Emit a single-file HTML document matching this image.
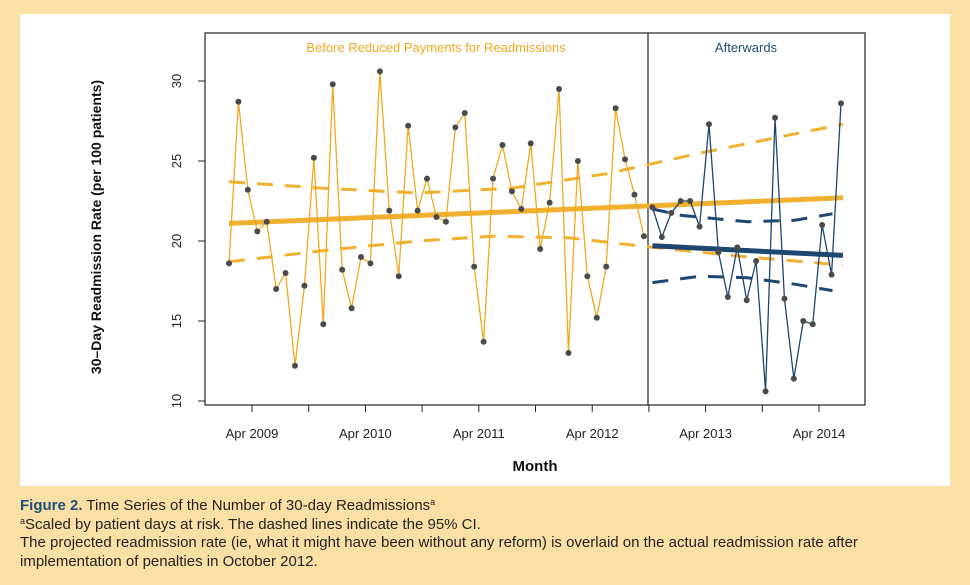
<!DOCTYPE html>
<html><head><meta charset="utf-8"><style>
body{margin:0;width:970px;height:585px;background:#fbe0a6;font-family:"Liberation Sans",sans-serif;overflow:hidden;position:relative}
#panel{position:absolute;left:20px;top:14px;width:930px;height:472px;background:#fff}
#cap{position:absolute;left:20px;top:497px;width:930px;font-size:15px;line-height:18.5px;color:#222}
#cap b{color:#1d4e79;font-weight:bold}
sup{font-size:9px;vertical-align:5px;line-height:0}
</style></head><body>
<div id="panel"></div>
<svg id="chart" width="970" height="585" style="position:absolute;left:0;top:0"></svg>
<div id="cap"><b>Figure 2.</b> Time Series of the Number of 30-day Readmissions<sup>a</sup><br><sup>a</sup>Scaled by patient days at risk. The dashed lines indicate the 95% CI.<br>The projected readmission rate (ie, what it might have been without any reform) is overlaid on the actual readmission rate after implementation of penalties in October 2012.</div>
<script>
const beforeVals=[18.6,28.7,23.2,20.6,21.2,17.0,18.0,12.2,17.2,25.2,14.8,29.8,18.2,15.8,19.0,18.6,30.6,21.9,17.8,27.2,21.9,23.9,21.5,21.2,27.1,28.0,18.4,13.7,23.9,26.0,23.1,22.0,26.1,19.5,22.4,29.5,13.0,25.0,17.8,15.2,18.4,28.3,25.1,22.9,20.3];
const afterVals=[22.1,20.25,21.75,22.5,22.5,20.9,27.3,19.3,16.5,19.6,16.3,18.75,10.6,27.7,16.4,11.4,15.0,14.8,21.0,17.9,28.6];
const yTicks=[10,15,20,25,30];
const xTickLabels=["Apr 2009","Apr 2010","Apr 2011","Apr 2012","Apr 2013","Apr 2014"];
const orangeFit=[[0,21.1],[65.1,22.7]];
const orangeUpper=[[0,23.7],[10,23.3],[20,23.0],[30,23.3],[40,24.2],[50,25.5],[65.1,27.3]];
const orangeLower=[[0,18.7],[10,19.4],[20,20.0],[28,20.3],[36,20.2],[45,19.6],[55,19.0],[65.1,18.5]];
const blueFit=[[44.9,19.7],[65.1,19.1]];
const blueUpper=[[44.9,22.0],[48,21.6],[55,21.2],[60,21.3],[64,21.7]];
const blueLower=[[44.9,17.4],[50,17.8],[55,17.7],[60,17.3],[64,16.9]];
const svg=document.getElementById('chart');const NS='http://www.w3.org/2000/svg';
const X=i=>229+9.43*i; const Y=v=>401-16*(v-10);
function mk(t,a,name){const e=document.createElementNS(NS,t);for(const k in a)e.setAttribute(k,a[k]);


svg.appendChild(e);return e;}
mk('rect',{x:205,y:33,width:660,height:372,fill:'none',stroke:'#222','stroke-width':1.2},'plot-frame');
mk('line',{x1:648,y1:33,x2:648,y2:405,stroke:'#222','stroke-width':1.2},'reform-divider');
yTicks.forEach(v=>{mk('line',{x1:198,x2:205,y1:Y(v),y2:Y(v),stroke:'#222'},'y-tick');
const t=mk('text',{x:0,y:0,transform:`translate(181,${Y(v)}) rotate(-90)`,'text-anchor':'middle','font-size':13,fill:'#222'},'y-tick-label');t.textContent=v;});
for(let k=0;k<11;k++){const x=252+56.7*k;mk('line',{x1:x,x2:x,y1:405,y2:412,stroke:'#222'},'x-tick');}
xTickLabels.forEach((s,k)=>{const t=mk('text',{x:252+113.4*k,y:438,'text-anchor':'middle','font-size':13,fill:'#222'},'x-tick-label');t.textContent=s;});
let t=mk('text',{x:535,y:471,'text-anchor':'middle','font-size':15,'font-weight':'bold',fill:'#111'},'x-axis-title');t.textContent='Month';
t=mk('text',{x:0,y:0,transform:'translate(101,227) rotate(-90)','text-anchor':'middle','font-size':14,'font-weight':'bold',fill:'#111'},'y-axis-title');t.textContent='30\u2013Day Readmission Rate (per 100 patients)';
t=mk('text',{x:436,y:52,'text-anchor':'middle','font-size':13,fill:'#f0a91e'},'before-label');t.textContent='Before Reduced Payments for Readmissions';
t=mk('text',{x:746,y:52,'text-anchor':'middle','font-size':13,fill:'#1d4e79'},'after-label');t.textContent='Afterwards';
const pts=a=>a.map(p=>X(p[0])+','+Y(p[1])).join(' ');
mk('polyline',{points:pts(orangeUpper),fill:'none',stroke:'#f0b030','stroke-width':3,'stroke-dasharray':'16,12'},'orange-ci-upper');
mk('polyline',{points:pts(orangeLower),fill:'none',stroke:'#f0b030','stroke-width':3,'stroke-dasharray':'16,12'},'orange-ci-lower');
mk('polyline',{points:pts(orangeFit),fill:'none',stroke:'#f0b030','stroke-width':5},'orange-trend');
mk('polyline',{points:beforeVals.map((v,i)=>X(i)+','+Y(v)).join(' '),fill:'none',stroke:'#f0a91e','stroke-width':1.3},'before-series');
mk('polyline',{points:pts(blueUpper),fill:'none',stroke:'#1d4670','stroke-width':3,'stroke-dasharray':'16,12'},'blue-ci-upper');
mk('polyline',{points:pts(blueLower),fill:'none',stroke:'#1d4670','stroke-width':3,'stroke-dasharray':'16,12'},'blue-ci-lower');
mk('polyline',{points:afterVals.map((v,i)=>X(i+44.9)+','+Y(v)).join(' '),fill:'none',stroke:'#1d4670','stroke-width':1.3},'after-series');
mk('polyline',{points:pts(blueFit),fill:'none',stroke:'#1d4670','stroke-width':5},'blue-trend');
beforeVals.forEach((v,i)=>mk('circle',{cx:X(i),cy:Y(v),r:3,fill:'#4a4a4a'},'before-point'));
afterVals.forEach((v,i)=>mk('circle',{cx:X(i+44.9),cy:Y(v),r:3,fill:'#4a4a4a'},'after-point'));
</script>
</body></html>
